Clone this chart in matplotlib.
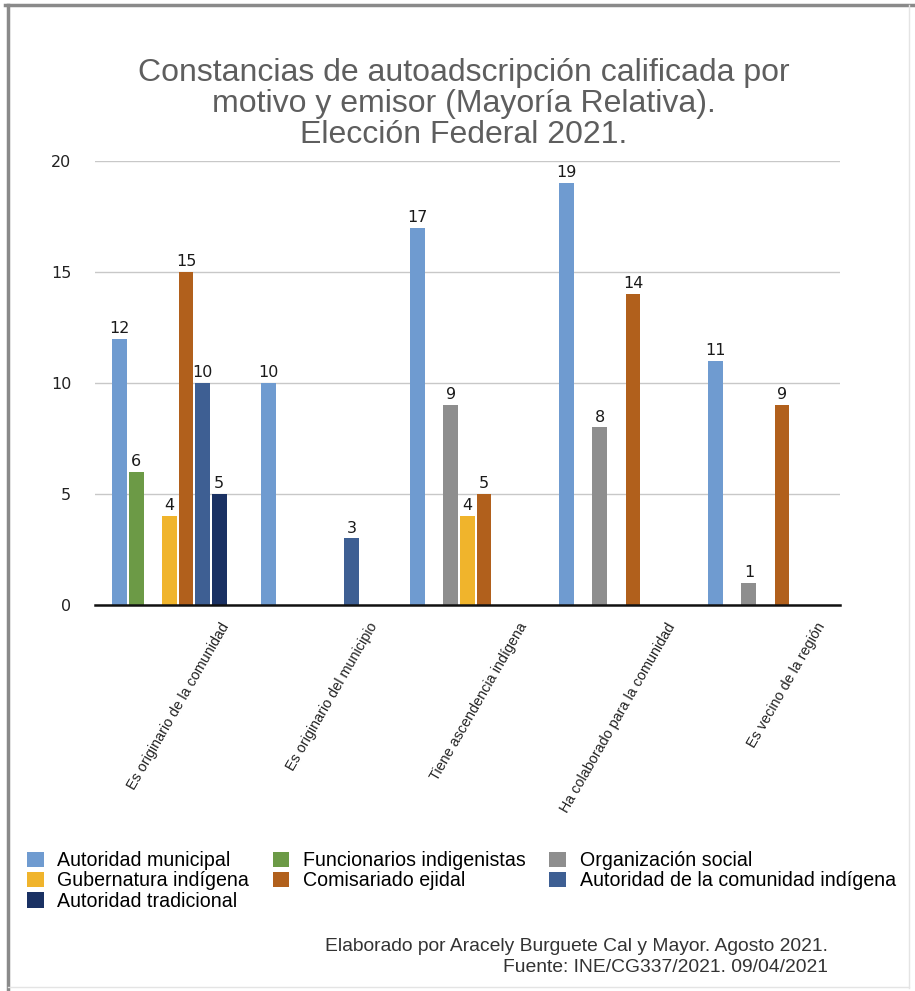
import numpy as np
import matplotlib.pyplot as plt
from matplotlib.transforms import ScaledTranslation
from matplotlib.lines import Line2D
from matplotlib.patches import Patch

plt.rcParams['font.family'] = ['Liberation Sans', 'DejaVu Sans']

motivos = ['Es originario de la comunidad', 'Es originario del municipio',
           'Tiene ascendencia indígena', 'Ha colaborado para la comunidad',
           'Es vecino de la región']

emisores = ['Autoridad municipal', 'Funcionarios indigenistas', 'Organización social',
            'Gubernatura indígena', 'Comisariado ejidal',
            'Autoridad de la comunidad indígena', 'Autoridad tradicional']

autoridad_municipal = [12, 10, 17, 19, 11]
funcionarios_indigenistas = [6, 0, 0, 0, 0]
organizacion_social = [0, 0, 9, 8, 1]
gubernatura_indigena = [4, 0, 4, 0, 0]
comisariado_ejidal = [15, 0, 5, 14, 9]
autoridad_comunidad = [10, 3, 0, 0, 0]
autoridad_tradicional = [5, 0, 0, 0, 0]

series = [autoridad_municipal, funcionarios_indigenistas, organizacion_social,
          gubernatura_indigena, comisariado_ejidal, autoridad_comunidad,
          autoridad_tradicional]
colores = ['#6f9bd0', '#6c9a46', '#8e8e8e', '#f0b42c', '#b1601c', '#3e5f93', '#1a3163']

fig = plt.figure(figsize=(9.15, 9.91), dpi=100)
ax = fig.add_axes([0.1038, 0.3895, 0.8142, 0.448])

x = np.arange(len(motivos))
paso = 0.111
ancho = 0.1
for i, (vals, c) in enumerate(zip(series, colores)):
    pos = x + (i - 3) * paso
    ax.bar(pos, vals, width=ancho, color=c, zorder=3)
    for p, v in zip(pos, vals):
        if v:
            ax.annotate(str(v), (p, v), xytext=(0, 2), textcoords='offset points',
                        ha='center', va='bottom', fontsize=11.5,
                        family='DejaVu Sans', color='#1a1a1a')

ax.set_xlim(-0.5, len(motivos) - 0.5)
ax.set_ylim(0, 20)
ax.set_yticks([0, 5, 10, 15, 20])
ax.grid(axis='y', color='#c8c8c8', linewidth=1, zorder=0)
for s in ['left', 'right', 'top']:
    ax.spines[s].set_visible(False)
ax.spines['bottom'].set_color('#111111')
ax.spines['bottom'].set_linewidth(1.8)
ax.spines['bottom'].set_zorder(4)

ax.tick_params(axis='y', length=0, pad=17)
for t in ax.get_yticklabels():
    t.set_family('DejaVu Sans')
    t.set_fontsize(11.5)
    t.set_color('#222222')

ax.set_xticks(x)
ax.set_xticklabels(motivos, rotation=60, ha='right', rotation_mode='anchor',
                   fontsize=10.4, color='#222222')
ax.tick_params(axis='x', length=0, pad=11)
desplaza = ScaledTranslation(0.50, 0, fig.dpi_scale_trans)
for t in ax.get_xticklabels():
    t.set_transform(t.get_transform() + desplaza)

fig.text(0.507, 0.895, 'Constancias de autoadscripción calificada por\n'
         'motivo y emisor (Mayoría Relativa).\nElección Federal 2021.',
         ha='center', va='center', fontsize=23, color='#5e5e5e', linespacing=1.05)

# legend filled column-wise, so order handles to read row by row
orden = [0, 3, 6, 1, 4, 2, 5]
handles = [Patch(facecolor=colores[k], edgecolor='none') for k in orden]
labels = [emisores[k] for k in orden]
fig.legend(handles, labels, loc='upper left', bbox_to_anchor=(0.021, 0.149),
           ncol=3, frameon=False, fontsize=14.1, handlelength=0.85,
           handleheight=0.85, handletextpad=0.7, labelspacing=0.06,
           columnspacing=1.2, borderaxespad=0)

fig.text(0.905, 0.034, 'Elaborado por Aracely Burguete Cal y Mayor. Agosto 2021.\n'
         'Fuente: INE/CG337/2021. 09/04/2021', ha='right', va='center',
         fontsize=13.9, color='#333333', linespacing=1.3)

# frame around the figure
fig.add_artist(Line2D([0.006, 1.0], [0.995, 0.995], color='#8a8a8a', linewidth=2.5))
fig.add_artist(Line2D([0.009, 0.009], [0.0, 0.995], color='#8a8a8a', linewidth=2.5))
fig.add_artist(Line2D([0.993, 0.993], [0.003, 0.995], color='#e4e4e4', linewidth=1))
fig.add_artist(Line2D([0.009, 0.993], [0.004, 0.004], color='#e4e4e4', linewidth=1))

fig.savefig('out.png', dpi=100)
